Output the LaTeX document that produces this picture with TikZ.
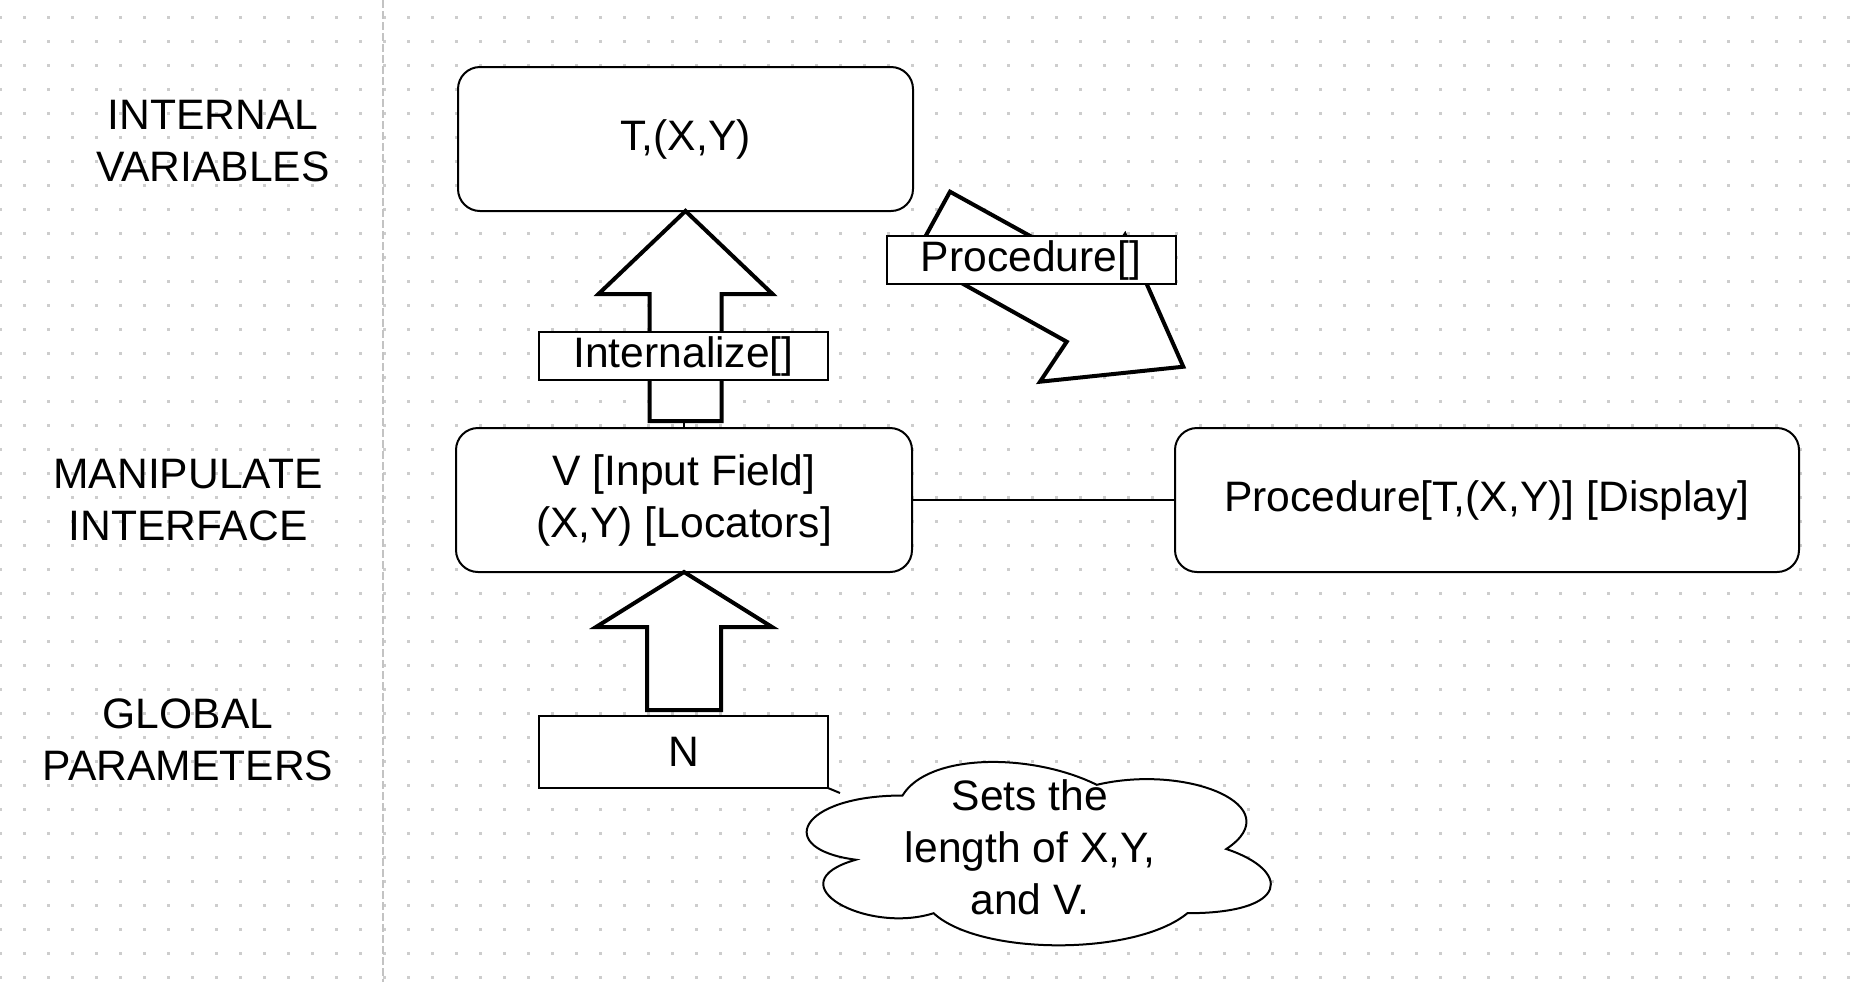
\documentclass[tikz,border=0pt]{standalone}
\usepackage{fontspec}
\setmainfont{Liberation Sans}
\usepackage{tikz}
\usetikzlibrary{positioning, calc}
\definecolor{gridgrey}{RGB}{205, 205, 205}
\definecolor{sepgrey}{RGB}{195, 195, 195}

\tikzset{
  stagebox/.style={draw, line width=1pt, rounded corners=11pt, fill=white,
    minimum height=72pt, inner sep=0pt, outer sep=0pt, align=center},
  tagbox/.style={draw, line width=1pt, fill=white, minimum width=144.5pt,
    minimum height=24pt, inner sep=0pt, outer sep=0pt},
  fatarrow/.style={draw, line width=2pt, fill=white, line join=miter},
  levellabel/.style={align=center, inner sep=0pt}
}

\begin{document}
\begin{tikzpicture}[x=0.5pt, y=-0.5pt, font=\fontsize{21.3}{26}\selectfont]
  \useasboundingbox (0,0) rectangle (1852,982);
  \fill[white] (0,0) rectangle (1852,982);
  % dotted grid
  \foreach \i in {0,...,77}
    \foreach \j in {0,...,40}
      \fill[gridgrey] (-1+24*\i, 16+24*\j) rectangle ++(2.5,2.5);
  % separator
  \draw[sepgrey, line width=1pt, dash pattern=on 4pt off 1.5pt] (383,0) -- (383,982);

  % Level labels
  \node[levellabel] (lvint) at (213,141) {INTERNAL\\VARIABLES};
  \node[levellabel] (lvman) at (188,500) {MANIPULATE\\INTERFACE};
  \node[levellabel] (lvglob) at (188,740) {GLOBAL\\PARAMETERS};

  % Boxes
  \node[stagebox, minimum width=227.5pt] (boxT) at (685.5,139) {T,(X,Y)};
  \node[stagebox, minimum width=228pt] (boxV) at (684,500) {V [Input Field]\\(X,Y) [Locators]};
  \node[stagebox, minimum width=312pt] (boxProc) at (1487,500) {Procedure[T,(X,Y)] [Display]};
  \node[tagbox, minimum height=36pt] (boxN) at (683.5,752) {N};
  \draw[line width=1pt] (boxV.east) -- (boxProc.west);

  % Block arrows
  \draw[fatarrow] (boxT.south) -- ++(87,83) -- ++(-51,0) -- ++(0,127) -- ++(-72,0)
    -- ++(0,-127) -- ++(-51,0) -- cycle;
  \draw[line width=1pt] (boxV.north) -- ++(0,-6);
  \draw[fatarrow] (boxV.south) -- ++(88,55) -- ++(-51,0) -- ++(0,83) -- ++(-74,0)
    -- ++(0,-83) -- ++(-51,0) -- cycle;
  \draw[fatarrow] (950,191.7) -- (1099,274) -- (1125,235) -- (1183.3,366.7)
    -- (1040,381.7) -- (1066.7,341.7) -- (914.3,256.7) -- cycle;

  % Arrow labels
  \node[tagbox] (lblInt) at (683.5,356) {Internalize[]};
  \node[tagbox] (lblProc) at (1031,260) {Procedure[]};

  % Note cloud
  \begin{scope}[shift={(773,742)}, x=259pt, y=-107pt]
    \draw[line width=1pt, fill=white] (0.25,0.25)
      .. controls (0.05,0.25) and (0,0.5) .. (0.16,0.55)
      .. controls (0,0.66) and (0.18,0.9) .. (0.31,0.8)
      .. controls (0.4,1) and (0.7,1) .. (0.8,0.8)
      .. controls (1,0.8) and (1,0.6) .. (0.875,0.5)
      .. controls (1,0.3) and (0.8,0.1) .. (0.625,0.2)
      .. controls (0.5,0.05) and (0.3,0.05) .. (0.25,0.25) -- cycle;
  \end{scope}
  \node[align=center, inner sep=0pt] (notetext) at (1030,847) {Sets the\\length of X,Y,\\and V.};
  \draw[line width=1pt] (boxN.south east) -- ++(12,5);
\end{tikzpicture}
\end{document}
